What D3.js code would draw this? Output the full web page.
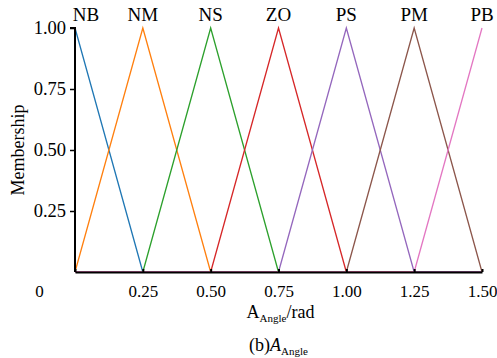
<!DOCTYPE html>
<html lang="en">
<head>
<meta charset="UTF-8">
<title>Membership functions A_Angle</title>
<script src="https://d3js.org/d3.v7.min.js"></script>
<style>
    body { margin: 0; background: #fff; }
    svg text { font-family: "Liberation Serif", "DejaVu Serif", serif; fill: #000; }
</style>
</head>
<body>
<svg id="chart" width="497" height="358"></svg>
<script>
// fuzzy set names and their peak positions (rad)
const setNames = ["NB", "NM", "NS", "ZO", "PS", "PM", "PB"];
const peaks = [0, 0.25, 0.5, 0.75, 1.0, 1.25, 1.5];
// sample points along the universe and membership of each set at those points
const xPoints = [0, 0.25, 0.5, 0.75, 1.0, 1.25, 1.5];
const memberNB = [1, 0, 0, 0, 0, 0, 0];
const memberNM = [0, 1, 0, 0, 0, 0, 0];
const memberNS = [0, 0, 1, 0, 0, 0, 0];
const memberZO = [0, 0, 0, 1, 0, 0, 0];
const memberPS = [0, 0, 0, 0, 1, 0, 0];
const memberPM = [0, 0, 0, 0, 0, 1, 0];
const memberPB = [0, 0, 0, 0, 0, 0, 1];
const xTicks = [0, 0.25, 0.5, 0.75, 1.0, 1.25, 1.5];
const xTickLabels = ["0", "0.25", "0.50", "0.75", "1.00", "1.25", "1.50"];
const yTicks = [0.25, 0.5, 0.75, 1.0];
const yTickLabels = ["0.25", "0.50", "0.75", "1.00"];

const series = [memberNB, memberNM, memberNS, memberZO, memberPS, memberPM, memberPB];
const colors = ["#1f77b4", "#ff7f0e", "#2ca02c", "#d62728", "#9467bd", "#8c564b", "#e377c2"];

const margin = {top: 28, right: 15, bottom: 86, left: 75};
const width = 497 - margin.left - margin.right;
const height = 358 - margin.top - margin.bottom;

const svg = d3.select("#chart");
const g = svg.append("g").attr("transform", `translate(${margin.left},${margin.top})`);

const x = d3.scaleLinear().domain([0, 1.5]).range([0, width]);
const y = d3.scaleLinear().domain([0, 1]).range([height, 0]);

const line = d3.line()
    .x((d, i) => x(xPoints[i]))
    .y(d => y(d));

series.forEach((s, i) => {
    g.append("path")
        .datum(s)
        .attr("fill", "none")
        .attr("stroke", colors[i])
        .attr("stroke-width", 1.3)
        .attr("d", line);
});

// set labels above each peak
g.selectAll(".setlabel")
    .data(setNames)
    .enter().append("text")
    .attr("class", "setlabel")
    .attr("x", (d, i) => x(peaks[i]) + (i === 0 ? 11 : 0))
    .attr("y", -7)
    .attr("text-anchor", "middle")
    .style("font-size", "19px")
    .text(d => d);

// y axis
const yAxis = g.append("g")
    .call(d3.axisLeft(y).tickValues(yTicks).tickSize(5).tickFormat((d, i) => yTickLabels[i]));
yAxis.select(".domain").attr("d", `M0,${height}V0H-5`).attr("stroke-width", 2);
yAxis.selectAll(".tick line").attr("stroke-width", 1.5);
yAxis.selectAll(".tick text").style("font-size", "18.5px").attr("x", -9);

// x axis (ticks point inward)
const xAxis = g.append("g")
    .attr("transform", `translate(0,${height})`)
    .call(d3.axisBottom(x).tickValues(xTicks).tickSize(0).tickFormat((d, i) => xTickLabels[i]));
xAxis.select(".domain").attr("stroke-width", 2);
xAxis.selectAll(".tick").append("line")
    .attr("y1", 0).attr("y2", -3)
    .attr("stroke", "#000").attr("stroke-width", 2);
xAxis.selectAll(".tick text")
    .style("font-size", "17px")
    .attr("y", 13)
    .attr("dx", (d, i) => i === 0 ? -36 : 0);

// axis titles
svg.append("text")
    .attr("transform", `translate(24,${margin.top + height / 2}) rotate(-90)`)
    .attr("text-anchor", "middle")
    .style("font-size", "18px")
    .text("Membership");

const xt = svg.append("text")
    .attr("x", margin.left + width / 2 + 2)
    .attr("y", 318)
    .attr("text-anchor", "middle")
    .style("font-size", "18px");
xt.append("tspan").text("A");
xt.append("tspan").attr("dy", 4).style("font-size", "11px").text("Angle");
xt.append("tspan").attr("dy", -4).text("/rad");

const cap = svg.append("text")
    .attr("x", margin.left + width / 2)
    .attr("y", 351)
    .attr("text-anchor", "middle")
    .style("font-size", "18px");
cap.append("tspan").text("(b)");
cap.append("tspan").style("font-style", "italic").text("A");
cap.append("tspan").attr("dy", 4).style("font-size", "11px").text("Angle");
</script>
</body>
</html>
